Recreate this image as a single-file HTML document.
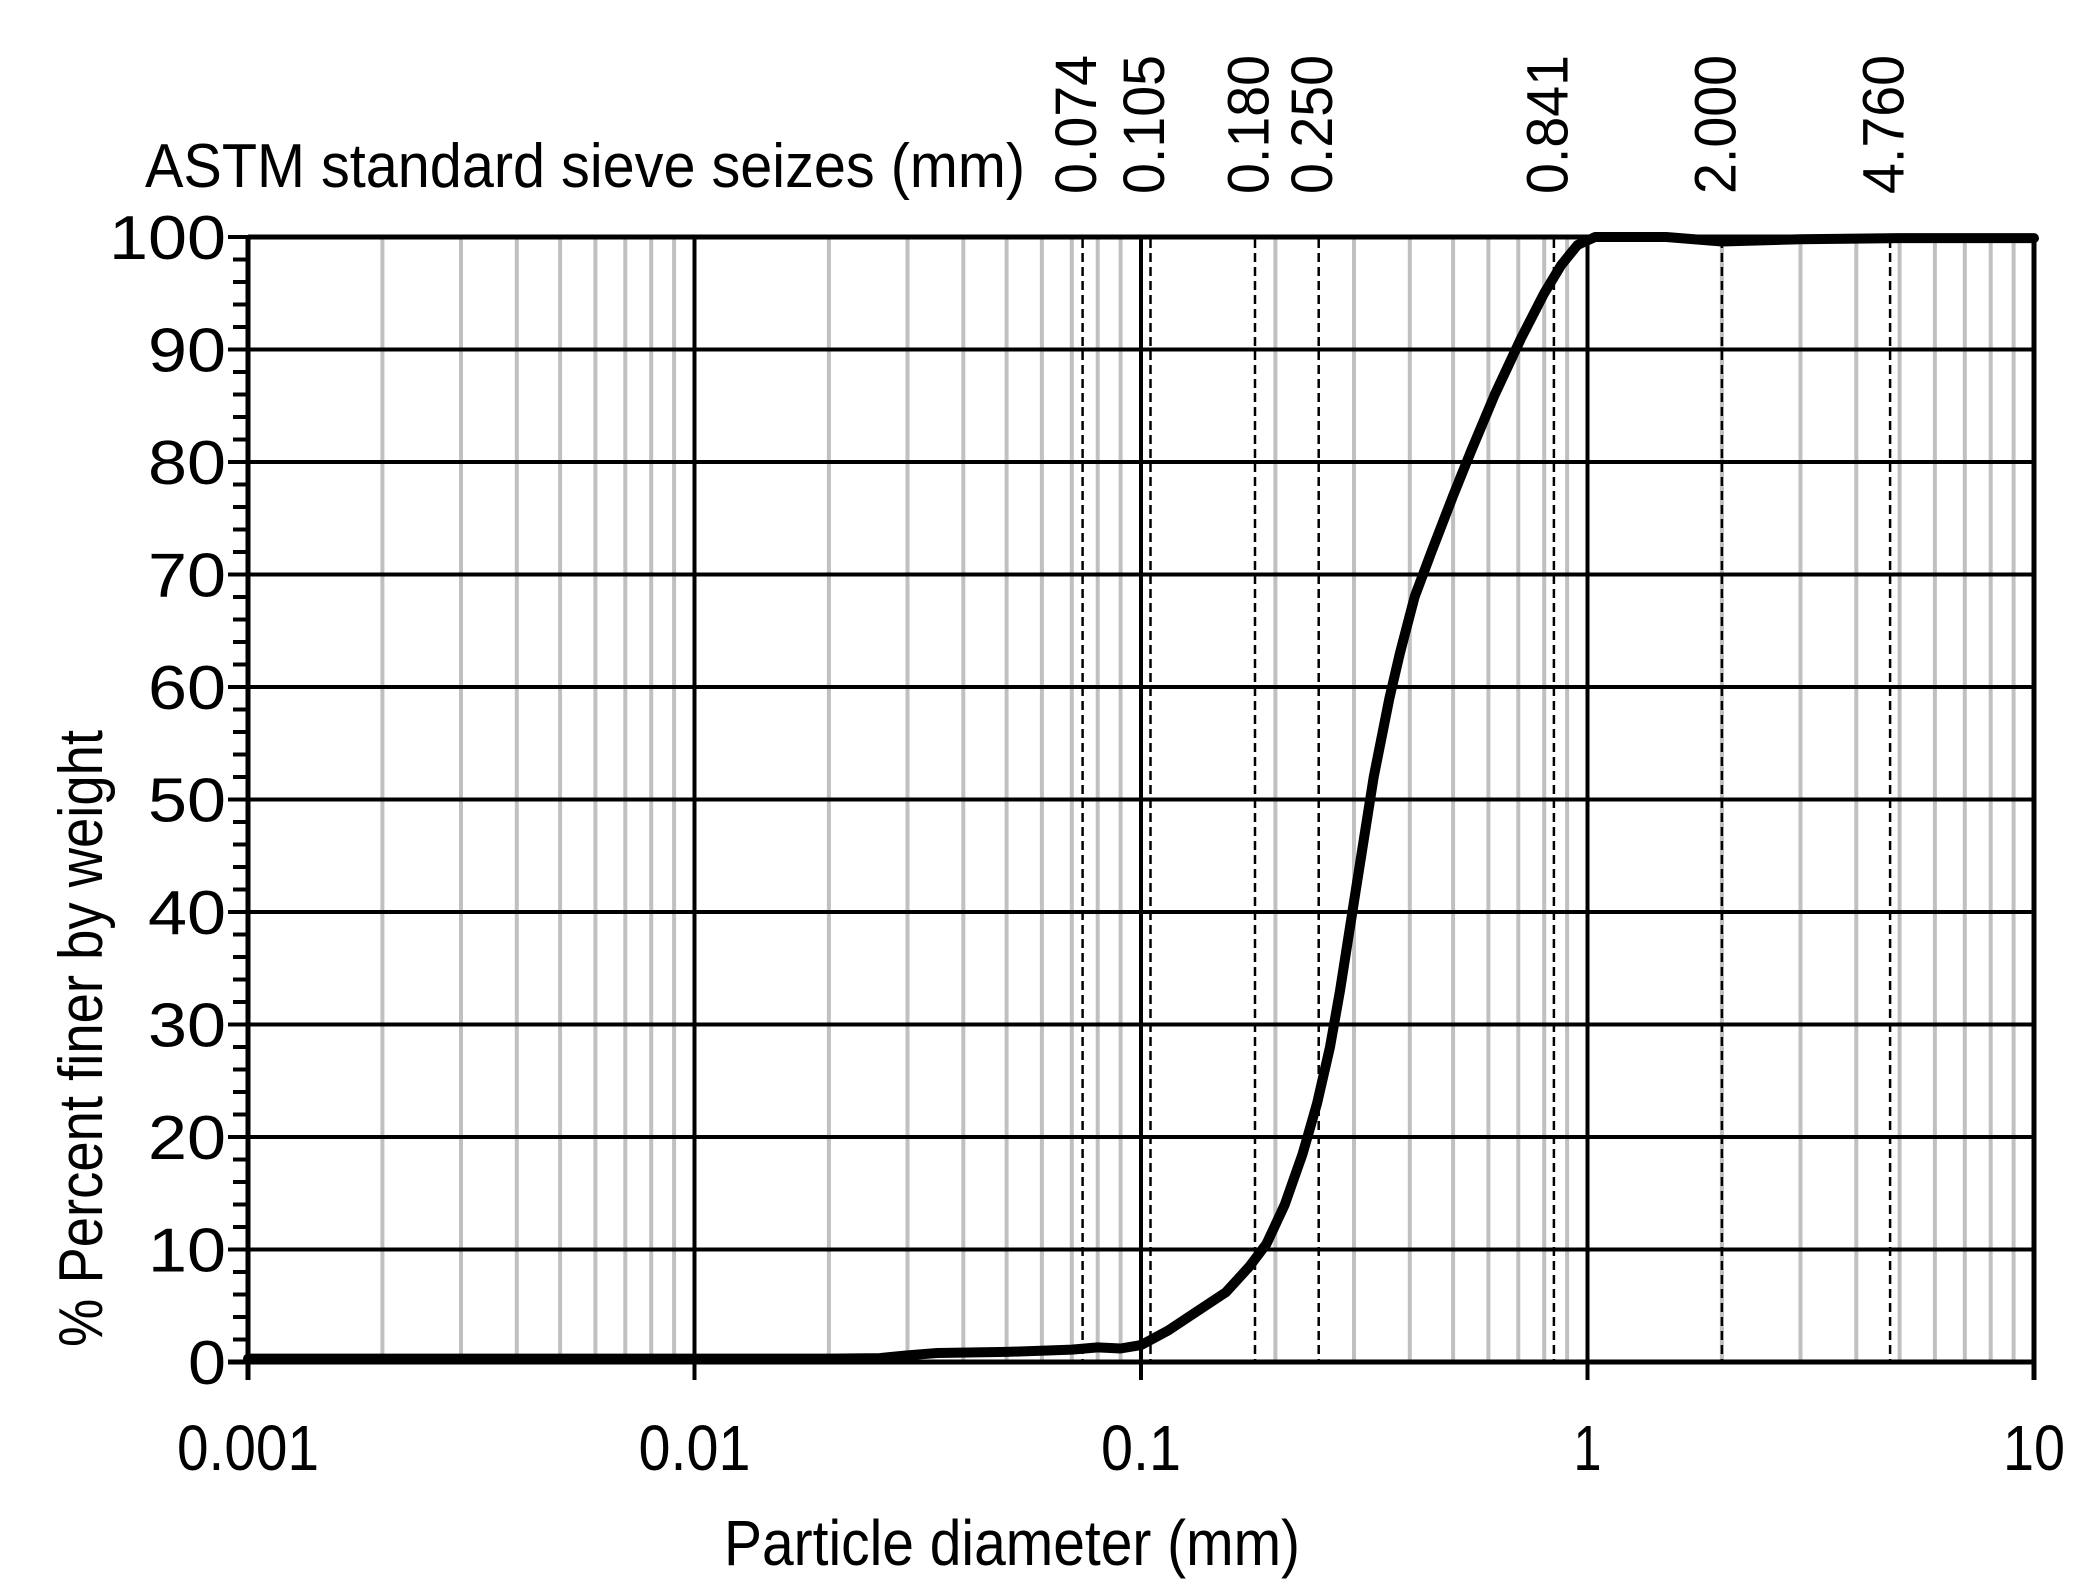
<!DOCTYPE html>
<html><head><meta charset="utf-8"><style>html,body{margin:0;padding:0;background:#fff}svg{display:block}</style></head>
<body>
<svg xmlns="http://www.w3.org/2000/svg" width="2091" height="1593" viewBox="0 0 2091 1593" font-family="Liberation Sans, Arial, sans-serif">
<rect width="2091" height="1593" fill="#fff"/>
<path stroke="#c0c0c0" stroke-width="4" fill="none" d="
M382.4,239V1362M461,239V1362M516.8,239V1362M560.1,239V1362M595.4,239V1362M625.3,239V1362M651.2,239V1362M674.1,239V1362
M828.9,239V1362M907.5,239V1362M963.3,239V1362M1006.6,239V1362M1041.9,239V1362M1071.8,239V1362M1097.7,239V1362M1120.6,239V1362
M1275.4,239V1362M1354,239V1362M1409.8,239V1362M1453.1,239V1362M1488.4,239V1362M1518.3,239V1362M1544.2,239V1362M1567.1,239V1362
M1721.9,239V1362M1800.5,239V1362M1856.3,239V1362M1899.6,239V1362M1934.9,239V1362M1964.8,239V1362M1990.7,239V1362M2013.6,239V1362"/>
<path stroke="#000" stroke-width="4" fill="none" d="M694.5,237V1380M1141,237V1380M1587.5,237V1380"/>
<path stroke="#000" stroke-width="4" fill="none" d="M248,1249.5H2034M248,1137H2034M248,1024.5H2034M248,912H2034M248,799.5H2034M248,687H2034M248,574.5H2034M248,462H2034M248,349.5H2034"/>
<path stroke="#000" stroke-width="2.5" stroke-dasharray="9,5" fill="none" d="M1082.6,239V1362M1150.5,239V1362M1255,239V1362M1318.7,239V1362M1553.9,239V1362M1721.9,239V1362M1890.1,239V1362"/>
<line x1="240.5" y1="1364" x2="240.5" y2="235" stroke="#000" stroke-width="15" stroke-dasharray="4,18.5"/>
<path stroke="#000" stroke-width="4" fill="none" d="M228,1362H248M228,1249.5H248M228,1137H248M228,1024.5H248M228,912H248M228,799.5H248M228,687H248M228,574.5H248M228,462H248M228,349.5H248M228,237H248"/>
<path stroke="#000" stroke-width="5" fill="none" d="M248,235V1380M2034,235V1380M248,237H2034M228,1362H2034"/>
<path fill="none" stroke="#000" stroke-width="10" stroke-linejoin="round" stroke-linecap="round" d="M248,1358.6L828.9,1358.6L879.8,1358.1L907.5,1355.3L937.4,1353L1006.6,1351.9L1071.8,1349.6L1097.7,1347.4L1120.5,1348.5L1141,1345.1L1168.2,1330.5L1191.9,1314.75L1225.9,1292.25L1249.5,1266.4L1266.5,1243.9L1284.8,1204.5L1302.6,1153.9L1317.1,1103.25L1330,1047L1340,990.75L1355.9,889.5L1373.7,777L1389.4,698.25L1399.9,653.25L1414.6,597L1431.4,552L1453.1,495.75L1471.2,450.75L1494.8,394.5L1521.1,338.25L1544.2,293.25L1561.2,265.1L1577.5,245L1595.1,237L1666.1,237L1721.9,241.5L1800.5,239.25L1899.6,238.1L2034,238.1"/>
<g font-size="58">
<text transform="translate(1096,194) rotate(-90)" textLength="139" lengthAdjust="spacingAndGlyphs">0.074</text>
<text transform="translate(1164,194) rotate(-90)" textLength="139" lengthAdjust="spacingAndGlyphs">0.105</text>
<text transform="translate(1268.5,194) rotate(-90)" textLength="139" lengthAdjust="spacingAndGlyphs">0.180</text>
<text transform="translate(1332,194) rotate(-90)" textLength="139" lengthAdjust="spacingAndGlyphs">0.250</text>
<text transform="translate(1567.5,194) rotate(-90)" textLength="139" lengthAdjust="spacingAndGlyphs">0.841</text>
<text transform="translate(1735.5,194) rotate(-90)" textLength="139" lengthAdjust="spacingAndGlyphs">2.000</text>
<text transform="translate(1903.5,194) rotate(-90)" textLength="139" lengthAdjust="spacingAndGlyphs">4.760</text>
</g>
<g font-size="62" text-anchor="end">
<text x="226" y="1384" textLength="38" lengthAdjust="spacingAndGlyphs">0</text>
<text x="226" y="1271.5" textLength="78" lengthAdjust="spacingAndGlyphs">10</text>
<text x="226" y="1159" textLength="78" lengthAdjust="spacingAndGlyphs">20</text>
<text x="226" y="1046.5" textLength="78" lengthAdjust="spacingAndGlyphs">30</text>
<text x="226" y="934" textLength="78" lengthAdjust="spacingAndGlyphs">40</text>
<text x="226" y="821.5" textLength="78" lengthAdjust="spacingAndGlyphs">50</text>
<text x="226" y="709" textLength="78" lengthAdjust="spacingAndGlyphs">60</text>
<text x="226" y="596.5" textLength="78" lengthAdjust="spacingAndGlyphs">70</text>
<text x="226" y="484" textLength="78" lengthAdjust="spacingAndGlyphs">80</text>
<text x="226" y="371.5" textLength="78" lengthAdjust="spacingAndGlyphs">90</text>
<text x="226" y="259" textLength="117" lengthAdjust="spacingAndGlyphs">100</text>
</g>
<g font-size="64" text-anchor="middle">
<text x="248" y="1470" textLength="142" lengthAdjust="spacingAndGlyphs">0.001</text>
<text x="694.5" y="1470" textLength="112" lengthAdjust="spacingAndGlyphs">0.01</text>
<text x="1141" y="1470" textLength="80" lengthAdjust="spacingAndGlyphs">0.1</text>
<text x="1587.5" y="1470" textLength="28" lengthAdjust="spacingAndGlyphs">1</text>
<text x="2034" y="1470" textLength="62" lengthAdjust="spacingAndGlyphs">10</text>
</g>
<text x="724" y="1565" font-size="64" textLength="576" lengthAdjust="spacingAndGlyphs">Particle diameter (mm)</text>
<text transform="translate(102,1347) rotate(-90)" font-size="62" textLength="617" lengthAdjust="spacingAndGlyphs">% Percent finer by weight</text>
<text x="145" y="187" font-size="62" textLength="880" lengthAdjust="spacingAndGlyphs">ASTM standard sieve seizes (mm)</text>
</svg>
</body></html>
